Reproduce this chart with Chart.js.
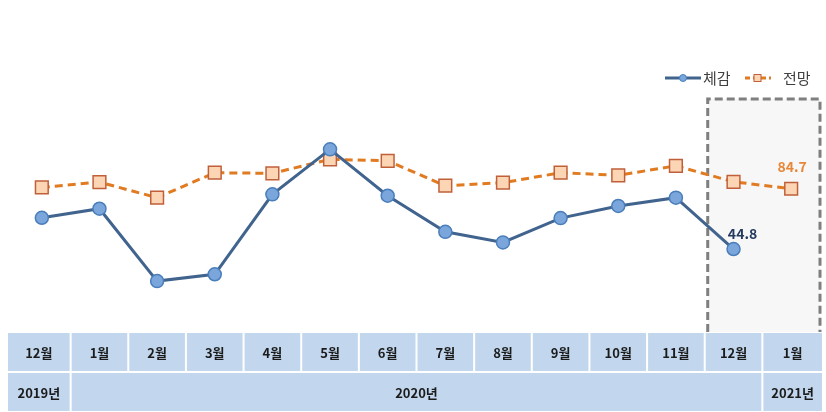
<!DOCTYPE html>
<html>
<head>
<meta charset="utf-8">
<script src="https://cdn.jsdelivr.net/npm/chart.js@4"></script>
<style>
  html, body { margin: 0; padding: 0; background: #fff; }
  #wrap { width: 826px; height: 412px; position: relative; }
</style>
</head>
<body>
<div id="wrap"><canvas id="bsiChart" width="826" height="412"></canvas></div>
<script>
// categories (months) and year row
const months = ["12월", "1월", "2월", "3월", "4월", "5월", "6월", "7월", "8월", "9월", "10월", "11월", "12월", "1월"];
const years = ["2019년", "2020년", "2021년"];
const yearSpans = [1, 12, 1];

// series values
const actual = [65.5, 71.5, 23.6, 28.1, 81.0, 110.8, 80.1, 56.2, 49.2, 65.3, 73.3, 78.8, 44.8, null];
const outlook = [85.6, 89.1, 78.8, 95.3, 94.9, 104.2, 103.2, 86.7, 88.7, 95.3, 93.6, 99.9, 89.3, 84.7];

const FONT = "'Noto Sans CJK KR', 'Noto Sans', sans-serif";

// gray dashed box for the last two months
const highlightBox = {
  id: "highlightBox",
  beforeDatasetsDraw(chart) {
    const ctx = chart.ctx;
    const x = chart.scales.x;
    const area = chart.chartArea;
    const left = (x.getPixelForValue(11) + x.getPixelForValue(12)) / 2 + 3;
    const right = 820;
    ctx.save();
    ctx.fillStyle = "#f7f7f7";
    ctx.fillRect(left, area.top, right - left, area.bottom - area.top);
    ctx.strokeStyle = "#7f7f7f";
    ctx.lineWidth = 3;
    ctx.setLineDash([8, 4]);
    ctx.beginPath();
    ctx.moveTo(left, area.bottom);
    ctx.lineTo(left, area.top);
    ctx.lineTo(right, area.top);
    ctx.lineTo(right, area.bottom);
    ctx.stroke();
    ctx.restore();
  }
};

// value labels on the latest points
const valueLabels = {
  id: "valueLabels",
  afterDatasetsDraw(chart) {
    const ctx = chart.ctx;
    const p1 = chart.getDatasetMeta(0).data[12];
    const p2 = chart.getDatasetMeta(1).data[13];
    ctx.save();
    ctx.font = "bold 14px " + FONT;
    ctx.textAlign = "center";
    ctx.textBaseline = "middle";
    ctx.fillStyle = "#243b5e";
    ctx.fillText(actual[12].toFixed(1), p1.x + 9, p1.y - 15);
    ctx.fillStyle = "#e7873a";
    ctx.fillText(outlook[13].toFixed(1), p2.x + 1, p2.y - 22);
    ctx.restore();
  }
};

// legend drawn by hand (line + marker samples)
const customLegend = {
  id: "customLegend",
  afterDraw(chart) {
    const ctx = chart.ctx;
    const y = 78;
    ctx.save();
    // 체감
    ctx.strokeStyle = "#41648f";
    ctx.lineWidth = 3;
    ctx.beginPath();
    ctx.moveTo(665, y);
    ctx.lineTo(701, y);
    ctx.stroke();
    ctx.fillStyle = "#7aa6dc";
    ctx.strokeStyle = "#4a7ebb";
    ctx.lineWidth = 1;
    ctx.beginPath();
    ctx.arc(683, y, 3.5, 0, Math.PI * 2);
    ctx.fill();
    ctx.stroke();
    // 전망
    ctx.strokeStyle = "#e07b22";
    ctx.lineWidth = 3;
    ctx.setLineDash([5, 3]);
    ctx.beginPath();
    ctx.moveTo(745, y);
    ctx.lineTo(771, y);
    ctx.stroke();
    ctx.setLineDash([]);
    ctx.fillStyle = "#fcd5b4";
    ctx.strokeStyle = "#c0603a";
    ctx.lineWidth = 1;
    ctx.fillRect(754, y - 3.5, 7, 7);
    ctx.strokeRect(754, y - 3.5, 7, 7);

    ctx.fillStyle = "#404040";
    ctx.font = "15px " + FONT;
    ctx.textBaseline = "middle";
    ctx.fillText("체감", 703, y);
    ctx.fillText("전망", 783, y);
    ctx.restore();
  }
};

// month / year table under the plot, columns taken from the x scale
const axisTable = {
  id: "axisTable",
  afterDraw(chart) {
    const ctx = chart.ctx;
    const x = chart.scales.x;
    const n = months.length;
    const edges = [8];
    for (let i = 0; i < n - 1; i++) {
      edges.push((x.getPixelForValue(i) + x.getPixelForValue(i + 1)) / 2);
    }
    edges.push(822);
    const row1 = [333, 371];
    const row2 = [373, 411];
    ctx.save();
    ctx.font = "bold 13px " + FONT;
    ctx.textAlign = "center";
    ctx.textBaseline = "middle";
    for (let i = 0; i < n; i++) {
      const l = edges[i] + (i > 0 ? 1 : 0);
      const r = edges[i + 1] - (i < n - 1 ? 1 : 0);
      ctx.fillStyle = "#c2d7ee";
      ctx.fillRect(l, row1[0], r - l, row1[1] - row1[0]);
      ctx.fillStyle = "#1b1b1b";
      ctx.fillText(months[i], (l + r) / 2, (row1[0] + row1[1]) / 2 + 1);
    }
    let idx = 0;
    years.forEach((yr, k) => {
      const start = idx;
      const end = idx + yearSpans[k];
      const l = edges[start] + (start > 0 ? 1 : 0);
      const r = edges[end] - (end < n ? 1 : 0);
      ctx.fillStyle = "#c2d7ee";
      ctx.fillRect(l, row2[0], r - l, row2[1] - row2[0]);
      ctx.fillStyle = "#1b1b1b";
      ctx.fillText(yr, (l + r) / 2, (row2[0] + row2[1]) / 2 + 1);
      idx = end;
    });
    ctx.restore();
  }
};

new Chart(document.getElementById("bsiChart").getContext("2d"), {
  type: "line",
  data: {
    labels: months,
    datasets: [
      {
        label: "체감",
        data: actual,
        borderColor: "#41648f",
        borderWidth: 3,
        pointStyle: "circle",
        pointRadius: 6.5,
        pointBorderWidth: 1.5,
        pointBackgroundColor: "#7aa6dc",
        pointBorderColor: "#4a7ebb",
        tension: 0,
        fill: false,
      },
      {
        label: "전망",
        data: outlook,
        borderColor: "#e07b22",
        borderWidth: 3,
        borderDash: [8, 5],
        pointStyle: "rect",
        pointRadius: 9,
        pointBorderWidth: 1.5,
        pointBackgroundColor: "#fcd5b4",
        pointBorderColor: "#c0603a",
        tension: 0,
        fill: false,
      },
    ],
  },
  options: {
    responsive: false,
    animation: false,
    layout: { autoPadding: false, padding: { left: 13, right: 6, top: 99, bottom: 80 } },
    scales: {
      x: { display: false, offset: true },
      y: { display: false, min: -10.1, max: 144.1 },
    },
    plugins: {
      legend: { display: false },
      tooltip: { enabled: false },
    },
  },
  plugins: [highlightBox, valueLabels, customLegend, axisTable],
});
</script>
</body>
</html>
